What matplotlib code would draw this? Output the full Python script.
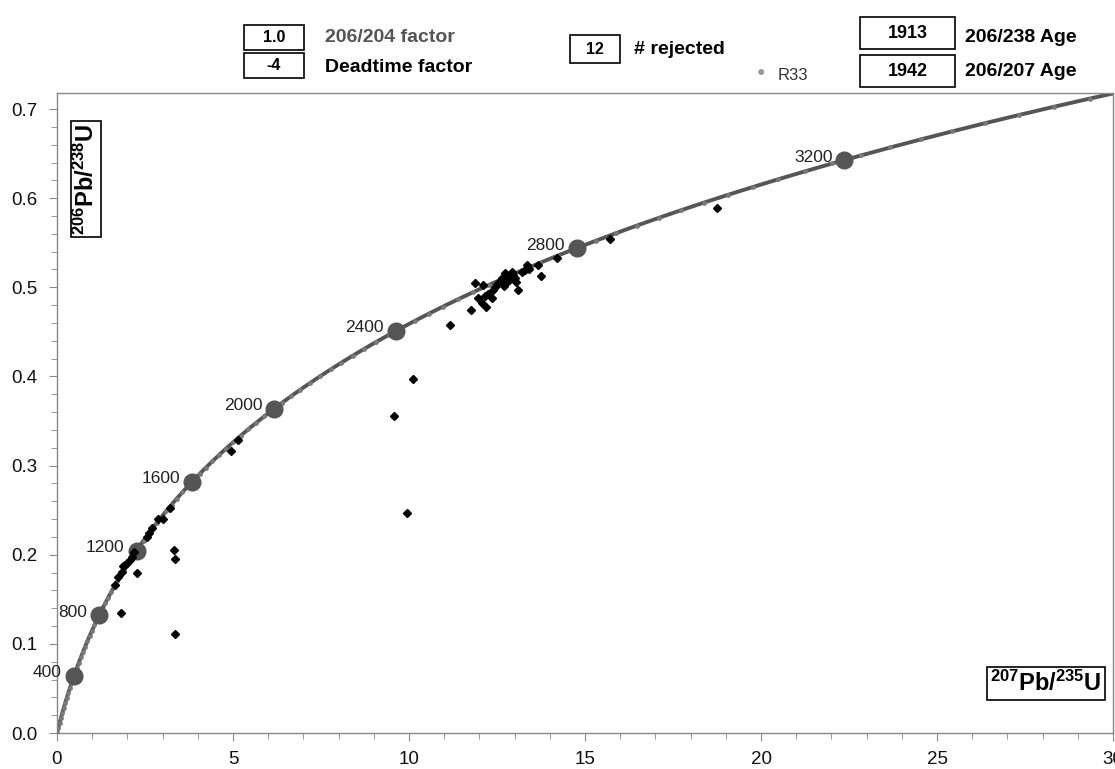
import numpy as np
import matplotlib
matplotlib.use("Agg")
import matplotlib.pyplot as plt
from matplotlib.patches import Rectangle

plt.rcParams['font.family'] = ['Liberation Sans', 'DejaVu Sans']
plt.rcParams['mathtext.fontset'] = 'custom'
plt.rcParams['mathtext.rm'] = 'Liberation Sans'
plt.rcParams['mathtext.bf'] = 'Liberation Sans:bold'

# decay constants (per Ma) used for the concordia curve
lambda235 = 9.8485e-4
lambda238 = 1.55125e-4

# concordia age markers and the small sample dots along the curve
marker_ages = [400, 800, 1200, 1600, 2000, 2400, 2800, 3200]
curve_ages = np.arange(0, 3600, 35)

# measured spots, 207Pb/235U vs 206Pb/238U
pb207_u235 = [1.65, 1.74, 1.84, 1.88, 1.93, 2.00, 2.07, 2.12, 2.20, 2.55, 2.60, 2.69,
              2.88, 3.00, 3.21, 2.26, 1.82, 3.33, 3.36, 3.36, 4.93, 5.14,
              9.58, 9.95, 10.10, 11.16, 11.75, 11.88, 11.97, 12.06, 12.11, 12.20,
              12.35, 12.40, 12.54, 12.63, 12.73, 12.78, 12.87, 12.92, 13.01, 13.10,
              13.20, 13.30, 13.34, 13.67, 13.75, 14.20, 15.71, 18.74,
              12.45, 12.60, 12.70, 12.85, 12.95, 13.05, 12.25, 12.15, 13.40, 12.80]
pb206_u238 = [0.166, 0.175, 0.181, 0.187, 0.188, 0.191, 0.194, 0.198, 0.203, 0.220, 0.224, 0.230,
              0.240, 0.240, 0.252, 0.180, 0.135, 0.205, 0.195, 0.111, 0.316, 0.329,
              0.356, 0.247, 0.397, 0.458, 0.4745, 0.505, 0.4875, 0.482, 0.503, 0.478,
              0.4875, 0.497, 0.5045, 0.510, 0.516, 0.506, 0.512, 0.5175, 0.510, 0.497,
              0.5175, 0.519, 0.525, 0.525, 0.513, 0.533, 0.554, 0.5885,
              0.500, 0.507, 0.502, 0.508, 0.514, 0.506, 0.492, 0.490, 0.520, 0.513]

# header boxes: value, label
header_vals = ["1.0", "-4", "12", "1913", "1942"]
header_labels = ["206/204 factor", "Deadtime factor", "# rejected", "206/238 Age", "206/207 Age"]

W, H = 1115, 769
fig = plt.figure(figsize=(W / 100, H / 100), dpi=100)
fig.patch.set_facecolor('white')
ax = fig.add_axes([57 / W, 36 / H, 1056 / W, 640 / H])

t = np.array(curve_ages, dtype=float)
cx = np.exp(lambda235 * t) - 1
cy = np.exp(lambda238 * t) - 1
ax.plot(cx, cy, color='#555555', lw=2.8, zorder=2)
ax.plot(cx, cy, ls='none', marker='o', ms=2.4, color='#7a7a7a', zorder=3)

ta = np.array(marker_ages, dtype=float)
mx = np.exp(lambda235 * ta) - 1
my = np.exp(lambda238 * ta) - 1
ax.plot(mx, my, ls='none', marker='o', ms=12, color='#555555', zorder=4)
for age, x, y in zip(marker_ages, mx, my):
    ax.annotate(str(age), (x, y), xytext=(-12, 3), textcoords='offset pixels',
                ha='right', va='center', fontsize=12.5, color='#222222',
                annotation_clip=False, zorder=5)

ax.plot(pb207_u235, pb206_u238, ls='none', marker='D', ms=4.5, color='black', zorder=6)

ax.set_xlim(0, 30)
ax.set_ylim(0, 0.718)
ax.set_xticks([0, 5, 10, 15, 20, 25, 30])
ax.set_xticks(np.arange(0, 31, 1), minor=True)
ax.set_yticks(np.arange(0, 0.71, 0.1))
ax.set_yticks(np.arange(0, 0.72, 0.02), minor=True)
ax.set_yticklabels(['%.1f' % v for v in np.arange(0, 0.71, 0.1)])
ax.tick_params(which='both', direction='out', color='#888888', labelsize=13.5,
               labelcolor='#111111')
ax.tick_params(which='major', length=6)
ax.tick_params(which='minor', length=4)
ax.tick_params(axis='y', pad=8)
ax.tick_params(axis='x', pad=7)
for sp in ax.spines.values():
    sp.set_color('#888888')
    sp.set_linewidth(1)

# axis titles in boxes
ax.text((86 - 57) / 1056, (733 - 179) / 640, r'$\mathbf{^{206}Pb/^{238}U}$', transform=ax.transAxes,
        rotation=90, ha='center', va='center', fontsize=17,
        bbox=dict(boxstyle='square,pad=0.12', fc='white', ec='black', lw=1.2))
ax.text((1046 - 57) / 1056, (733 - 683.5) / 640, r'$\mathbf{^{207}Pb/^{235}U}$',
        transform=ax.transAxes, ha='center', va='center', fontsize=17,
        bbox=dict(boxstyle='square,pad=0.16', fc='white', ec='black', lw=1.2))

# header boxes (figure pixel positions)
box_pos = [(244, 25, 60, 25), (244, 53, 60, 25), (570, 35, 50, 28),
           (860, 17, 95, 32), (860, 55, 95, 32)]
label_pos = [(325, 38), (325, 68), (634, 49), (965, 38), (965, 72)]
label_colors = ['#555555', 'black', 'black', 'black', 'black']
for val, lab, (bx, by, bw, bh), (lx, ly), lc in zip(header_vals, header_labels,
                                                     box_pos, label_pos, label_colors):
    fx = bx / W
    fy = 1 - (by + bh) / H
    fig.patches.append(Rectangle((fx, fy), bw / W, bh / H, transform=fig.transFigure,
                                 fc='white', ec='black', lw=1.2))
    fig.text(fx + bw / 2 / W, fy + bh / 2 / H, val, ha='center', va='center',
             fontsize=13 if bh > 30 else 11.5, fontweight='bold')
    fig.text(lx / W, 1 - ly / H, lab, ha='left', va='center',
             fontsize=14, fontweight='bold', color=lc)

fig.text(761 / W, 1 - 72 / H, u'\u25cf', color='#999999', fontsize=10,
         ha='center', va='center')
fig.text(778 / W, 1 - 76 / H, 'R33', color='#333333', fontsize=12,
         ha='left', va='center')

fig.savefig('out.png', dpi=100)
